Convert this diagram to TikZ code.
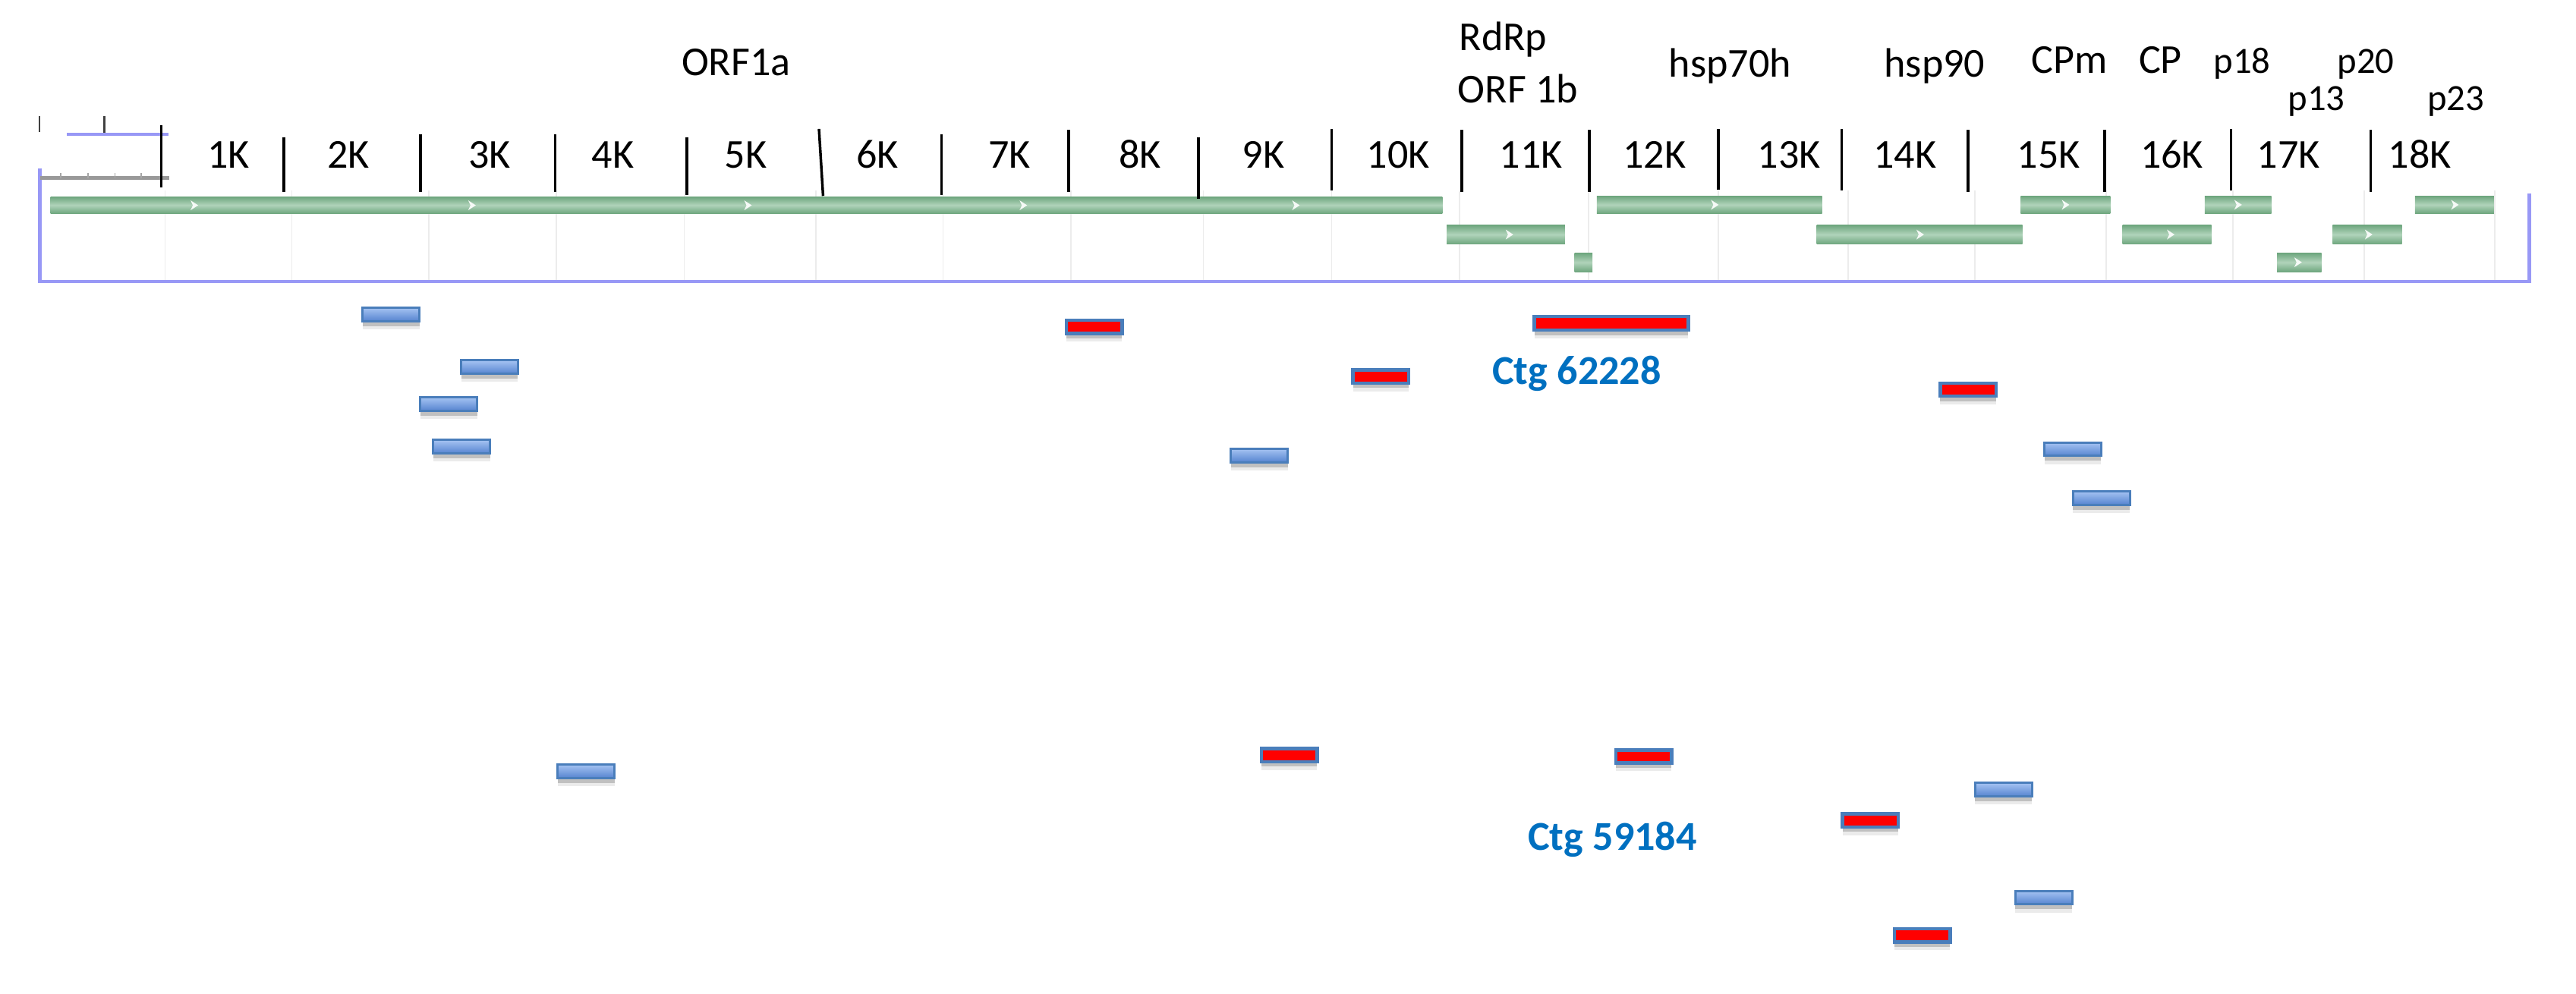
\documentclass[tikz,border=0pt]{standalone}
\usepackage{fontspec}
\setmainfont{Carlito}
\usetikzlibrary{shadows}
\definecolor{gdark}{RGB}{110,166,126}
\definecolor{glight}{RGB}{176,211,186}
\definecolor{boxblue}{RGB}{152,152,246}
\definecolor{ctgblue}{RGB}{0,112,192}
\definecolor{barline}{RGB}{74,126,187}
\definecolor{bartop}{RGB}{165,195,242}
\definecolor{barbot}{RGB}{86,132,208}
\definecolor{gridgray}{RGB}{236,236,236}
\tikzset{
  x=1pt, y=-1pt,
  gene/.style={top color=gdark, bottom color=gdark, middle color=glight, draw=none},
  gridline/.style={draw=gridgray, line width=0.8pt},
  tickline/.style={draw=black, line width=1.6pt},
  boxline/.style={draw=boxblue, line width=2pt},
  ticklabel/.style={anchor=base, font=\fontsize{25}{30}\selectfont, inner sep=0pt},
  genelabel/.style={anchor=base, font=\fontsize{25}{30}\selectfont, inner sep=0pt},
  smalllabel/.style={anchor=base, font=\fontsize{22.5}{27}\selectfont, inner sep=0pt},
  ctglabel/.style={anchor=base, text=ctgblue, font=\fontsize{25}{30}\selectfont\bfseries, inner sep=0pt},
  barshadow/.style={drop shadow={shadow xshift=0pt, shadow yshift=-3pt, fill=black, opacity=0.18},
                    drop shadow={shadow xshift=0pt, shadow yshift=-5pt, fill=black, opacity=0.08}},
  bluebar/.style={rectangle, inner sep=0pt, draw=barline, line width=1.4pt,
                  top color=bartop, bottom color=barbot,
                  minimum width=34.6pt, minimum height=8.2pt, barshadow},
  redbar/.style={rectangle, inner sep=0pt, draw=barline, line width=2pt, fill=red,
                 minimum width=34pt, minimum height=8pt, barshadow},
  garrow/.pic={\fill[white, opacity=0.9] (-2,-3) -- (2.6,0) -- (-2,3) -- (-0.6,0) -- cycle;}
}
\begin{document}
\begin{tikzpicture}
\useasboundingbox[fill=white] (0,0) rectangle (1568,604.8);

% faint grid lines inside the track box
\foreach \gx in {100.5,177.6,261,338.7,416.5,496.5,574,652,732.5,810.6,888.5,967,1046,1125,1202,1282,1359,1439,1518.5}
  \draw[gridline] (\gx,116) -- (\gx,170.5);

% track box
\draw[boxline] (24.3,102.4) -- (24.3,171.4) -- (1539.5,171.4) -- (1539.5,117.8);
\draw[boxline] (40.6,81.8) -- (102.5,81.8);

% small ruler
\draw[draw=black!75, line width=1.3pt] (24,70.7) -- (24,80.5);
\draw[draw=black!75, line width=1.3pt] (63.6,70.7) -- (63.6,81);
\draw[draw=black!40, line width=2pt] (24.3,108.4) -- (103,108.4);
\foreach \rx in {37,53.5,70,86}
  \draw[draw=black!35, line width=0.8pt] (\rx,105.5) -- (\rx,108.4);

% green gene bars, row 1
\path[gene] (30.8,119.8) rectangle (878,130);
\path[gene] (972,119.3) rectangle (1109,130);
\path[gene] (1230,119.3) rectangle (1284.5,130);
\path[gene] (1342,119.3) rectangle (1382.6,130);
\path[gene] (1470,119.3) rectangle (1518,130);
% row 2
\path[gene] (880.6,137) rectangle (952.6,148.6);
\path[gene] (1105.8,137) rectangle (1231,148.6);
\path[gene] (1292,137) rectangle (1346,148.6);
\path[gene] (1419.8,137) rectangle (1462,148.6);
% row 3
\path[gene] (958.4,154) rectangle (969.3,165.5);
\path[gene] (1386,154) rectangle (1413,165.5);

% direction marks
\foreach \ax in {118,287,455,622.6,788.5}
  \pic at (\ax,125) {garrow};
\foreach \ax in {1043.5,1257,1362,1494}
  \pic at (\ax,124.7) {garrow};
\foreach \ax in {918.5,1168.5,1321,1441.5}
  \pic at (\ax,142.8) {garrow};
\pic at (1398.5,159.7) {garrow};

% black scale ticks
\draw[tickline] (98.2,76) -- (98.2,114);
\draw[tickline] (172.7,83.7) -- (172.7,117);
\draw[tickline] (256,81.6) -- (256,117);
\draw[tickline] (338,81.6) -- (338,117);
\draw[tickline] (418,83.7) -- (418,118.6);
\draw[tickline] (498.5,78.5) -- (501,119.3);
\draw[tickline] (573,81.6) -- (573,118.6);
\draw[tickline] (650.5,79) -- (650.5,117);
\draw[tickline] (729.5,83.7) -- (729.5,121);
\draw[tickline] (810.6,78.5) -- (810.6,116);
\draw[tickline] (889.7,79) -- (889.7,117);
\draw[tickline] (967.5,79) -- (967.5,117);
\draw[tickline] (1046,78.5) -- (1046,115.5);
\draw[tickline] (1121,78.5) -- (1121,116);
\draw[tickline] (1198,79) -- (1198,117);
\draw[tickline] (1281,79) -- (1281,117);
\draw[tickline] (1358,78.5) -- (1358,116);
\draw[tickline] (1443,79) -- (1443,117);

% tick labels
\node[ticklabel] (k1) at (139,102.4) {1K};
\node[ticklabel] (k2) at (212,102.4) {2K};
\node[ticklabel] (k3) at (298,102.4) {3K};
\node[ticklabel] (k4) at (373,102.4) {4K};
\node[ticklabel] (k5) at (454,102.4) {5K};
\node[ticklabel] (k6) at (534,102.4) {6K};
\node[ticklabel] (k7) at (614.5,102.4) {7K};
\node[ticklabel] (k8) at (694,102.4) {8K};
\node[ticklabel] (k9) at (769,102.4) {9K};
\node[ticklabel] (k10) at (851,102.4) {10K};
\node[ticklabel] (k11) at (932,102.4) {11K};
\node[ticklabel] (k12) at (1007,102.4) {12K};
\node[ticklabel] (k13) at (1089,102.4) {13K};
\node[ticklabel] (k14) at (1159.6,102.4) {14K};
\node[ticklabel] (k15) at (1247,102.4) {15K};
\node[ticklabel] (k16) at (1322,102.4) {16K};
\node[ticklabel] (k17) at (1393,102.4) {17K};
\node[ticklabel] (k18) at (1473,102.4) {18K};

% gene labels
\node[genelabel] (orf1a) at (448,45.9) {ORF1a};
\node[genelabel] (rdrp) at (915,30.8) {RdRp};
\node[genelabel] (orf1b) at (924,62.4) {ORF 1b};
\node[genelabel] (hsp70) at (1053,47) {hsp70h};
\node[genelabel] (hsp90) at (1177.6,47) {hsp90};
\node[genelabel] (cpm) at (1259.5,44.7) {CPm};
\node[genelabel] (cp) at (1315,44.7) {CP};
\node[smalllabel] (p18) at (1364.8,44.7) {p18};
\node[smalllabel] (p20) at (1440,44.7) {p20};
\node[smalllabel] (p13) at (1410,67) {p13};
\node[smalllabel] (p23) at (1494.8,67) {p23};

% contig read bars, blue
\node[bluebar] (b1) at (238,191.4) {};
\node[bluebar] (b2) at (298,223.5) {};
\node[bluebar] (b3) at (273.2,246) {};
\node[bluebar] (b4) at (281,272) {};
\node[bluebar] (b5) at (766.6,277.3) {};
\node[bluebar] (b6) at (1261.7,273.5) {};
\node[bluebar] (b7) at (1279.2,303.2) {};
\node[bluebar] (b8) at (356.8,469.6) {};
\node[bluebar] (b9) at (1219.5,480.8) {};
\node[bluebar] (b10) at (1244,546.5) {};

% contig read bars, red
\node[redbar] (r1) at (666,199) {};
\node[redbar, minimum width=93.7pt, minimum height=8.3pt] (r2) at (980.8,196.9) {};
\node[redbar] (r3) at (840.5,229.2) {};
\node[redbar] (r4) at (1198,237.2) {};
\node[redbar] (r5) at (784.7,459.7) {};
\node[redbar] (r6) at (1000.5,460.6) {};
\node[redbar] (r7) at (1138.5,499.5) {};
\node[redbar] (r8) at (1170,569.5) {};

% contig labels
\node[ctglabel] (ctg1) at (959.8,234) {Ctg 62228};
\node[ctglabel] (ctg2) at (981.5,517.5) {Ctg 59184};
\end{tikzpicture}
\end{document}
